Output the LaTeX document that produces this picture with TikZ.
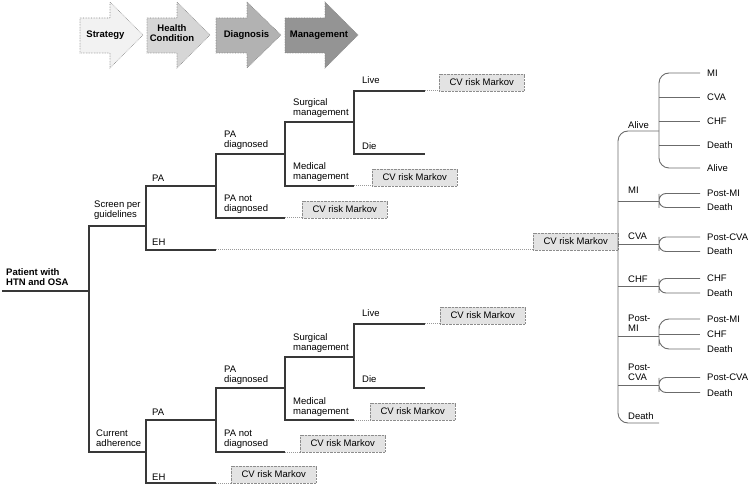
\documentclass[tikz,border=0pt]{standalone}
\usepackage{fontspec}
\setmainfont{Liberation Sans}
\begin{document}
\begin{tikzpicture}[x=1pt,y=-1pt,
  treeline/.style={draw=black!78,line width=1.1pt},
  mkline/.style={draw=black!58,line width=0.9pt},
  dotline/.style={draw=black!40,line width=1pt,densely dotted},
  lbl/.style={anchor=base west,inner sep=0pt,align=left,font=\fontsize{9.5}{10}\selectfont},
  sublbl/.style={anchor=west,inner sep=0pt,text height=7pt,text depth=0pt,font=\fontsize{9.5}{10}\selectfont},
  mbox/.style={draw=black!45,densely dotted,fill=black!11,minimum width=85pt,minimum height=17pt,inner sep=0pt,anchor=south west,font=\fontsize{9.5}{10}\selectfont},
  arrowshape/.style={draw=black!50,densely dotted,line width=0.6pt},
  arrowtext/.style={inner sep=0pt,align=center,font=\fontsize{9.5}{10}\selectfont\bfseries}
]
\useasboundingbox (0,0) rectangle (750,486);

% ---------- header arrows ----------
\filldraw[arrowshape,fill=black!5] (80,18) -- (110,18) -- (110,2) -- (143,35) -- (110,68) -- (110,53) -- (80,53) -- cycle;
\filldraw[arrowshape,fill=black!16] (147,18) -- (177,18) -- (177,2) -- (210,35) -- (177,68) -- (177,53) -- (147,53) -- cycle;
\filldraw[arrowshape,fill=black!30] (216,18) -- (247,18) -- (247,2) -- (281,35) -- (247,68) -- (247,53) -- (216,53) -- cycle;
\filldraw[arrowshape,fill=black!42] (285,18) -- (325,18) -- (325,2) -- (358,35) -- (325,68) -- (325,53) -- (285,53) -- cycle;
\node[arrowtext] (hStrategy) at (105.5,35) {Strategy};
\node[arrowtext] (hHealth) at (172,33) {Health\\Condition};
\node[arrowtext] (hDiag) at (246.5,35) {Diagnosis};
\node[arrowtext] (hMan) at (319,35) {Management};

% ---------- coordinates of upper tree ----------
\coordinate (r0) at (2,291);
\coordinate (r1) at (89,291);
\coordinate (sg) at (146,226);
\coordinate (pa1) at (216,186);
\coordinate (eh1) at (216,250);
\coordinate (pd1) at (285,154);
\coordinate (pn1) at (285,218);
\coordinate (sm1) at (354,122);
\coordinate (mm1) at (354,186);
\coordinate (lv1) at (425,91);
\coordinate (die1) at (425,154);
% lower tree
\coordinate (ca) at (146,452);
\coordinate (pa2) at (216,420);
\coordinate (eh2) at (216,483);
\coordinate (pd2) at (285,388);
\coordinate (pn2) at (285,452);
\coordinate (sm2) at (354,357);
\coordinate (mm2) at (354,420);
\coordinate (lv2) at (425,324);
\coordinate (die2) at (425,388);

% ---------- Markov boxes ----------
\node[mbox] (bl1) at (439,91) {CV risk Markov};
\node[mbox] (bm1) at (372,186) {CV risk Markov};
\node[mbox] (bn1) at (302,218) {CV risk Markov};
\node[mbox] (beh1) at (533,250) {CV risk Markov};
\node[mbox] (bl2) at (440,324) {CV risk Markov};
\node[mbox] (bm2) at (370,420) {CV risk Markov};
\node[mbox] (bn2) at (300,452) {CV risk Markov};
\node[mbox] (beh2) at (231,483) {CV risk Markov};

% ---------- tree connectors ----------
\draw[treeline] (r0) -- (r1);
\draw[treeline] (r1) |- (sg);
\draw[treeline] (r1) |- (ca);
\draw[treeline] (sg) |- (pa1);
\draw[treeline] (sg) |- (eh1);
\draw[treeline] (pa1) |- (pd1);
\draw[treeline] (pa1) |- (pn1);
\draw[treeline] (pd1) |- (sm1);
\draw[treeline] (pd1) |- (mm1);
\draw[treeline] (sm1) |- (lv1);
\draw[treeline] (sm1) |- (die1);
\draw[treeline] (ca) |- (pa2);
\draw[treeline] (ca) |- (eh2);
\draw[treeline] (pa2) |- (pd2);
\draw[treeline] (pa2) |- (pn2);
\draw[treeline] (pd2) |- (sm2);
\draw[treeline] (pd2) |- (mm2);
\draw[treeline] (sm2) |- (lv2);
\draw[treeline] (sm2) |- (die2);

\draw[dotline] (lv1) -- (bl1.south west);
\draw[dotline] (mm1) -- (bm1.south west);
\draw[dotline] (pn1) -- (bn1.south west);
\draw[dotline] (eh1) -- (beh1.south west);
\draw[dotline] (lv2) -- (bl2.south west);
\draw[dotline] (mm2) -- (bm2.south west);
\draw[dotline] (pn2) -- (bn2.south west);
\draw[dotline] (eh2) -- (beh2.south west);

% ---------- tree labels ----------
\node[lbl,font=\fontsize{9.5}{10}\selectfont\bfseries] (lPatient) at (6,285.5) {Patient with\\HTN and OSA};
\node[lbl] (lScreen) at (94,218) {Screen per\\guidelines};
\node[lbl] (lPA1) at (152,182) {PA};
\node[lbl] (lEH1) at (152,246) {EH};
\node[lbl] (lPD1) at (224,148) {PA\\diagnosed};
\node[lbl] (lPN1) at (224,212) {PA not\\diagnosed};
\node[lbl] (lSM1) at (293,115.5) {Surgical\\management};
\node[lbl] (lMM1) at (293,180) {Medical\\management};
\node[lbl] (lLV1) at (362,84) {Live};
\node[lbl] (lDie1) at (362,149.5) {Die};

\node[lbl] (lCA) at (96,446.5) {Current\\adherence};
\node[lbl] (lPA2) at (152,415.5) {PA};
\node[lbl] (lEH2) at (152,480) {EH};
\node[lbl] (lPD2) at (224,383) {PA\\diagnosed};
\node[lbl] (lPN2) at (224,446.5) {PA not\\diagnosed};
\node[lbl] (lSM2) at (293,350.5) {Surgical\\management};
\node[lbl] (lMM2) at (293,414) {Medical\\management};
\node[lbl] (lLV2) at (362,317) {Live};
\node[lbl] (lDie2) at (362,383) {Die};

% ---------- Markov state tree ----------
\coordinate (mk) at (618,250);
\coordinate (mA) at (659,131);
\coordinate (mMI) at (659,201);
\coordinate (mCVA) at (659,244);
\coordinate (mCHF) at (659,286);
\coordinate (mPMI) at (659,336);
\coordinate (mPCVA) at (659,385);
\coordinate (mD) at (659,423);

\draw[mkline,rounded corners=10pt] (mA) -| (mk) |- (mD);
\draw[mkline] (mMI -| mk) -- (mMI);
\draw[mkline] (mCVA -| mk) -- (mCVA);
\draw[mkline] (mCHF -| mk) -- (mCHF);
\draw[mkline] (mPMI -| mk) -- (mPMI);
\draw[mkline] (mPCVA -| mk) -- (mPCVA);

\node[lbl] (sAlive) at (628,128.5) {Alive};
\node[lbl] (sMI) at (628,194) {MI};
\node[lbl] (sCVA) at (628,240) {CVA};
\node[lbl] (sCHF) at (628,282.5) {CHF};
\node[lbl] (sPMI) at (628,331.5) {Post-\\MI};
\node[lbl] (sPCVA) at (628,380.5) {Post-\\CVA};
\node[lbl] (sDeath) at (628,419.5) {Death};

% sub-branch end points
\coordinate (aMI) at (700,73);
\coordinate (aCVA) at (700,97.5);
\coordinate (aCHF) at (700,121);
\coordinate (aDeath) at (700,145);
\coordinate (aAlive) at (700,168);
\draw[mkline,rounded corners=10pt] (aMI) -| (mA) |- (aAlive);
\draw[mkline] (aCVA -| mA) -- (aCVA);
\draw[mkline] (aCHF -| mA) -- (aCHF);
\draw[mkline] (aDeath -| mA) -- (aDeath);

\coordinate (bPost) at (700,193.5);
\coordinate (bDeath) at (700,207.5);
\draw[mkline,rounded corners=7pt] (bPost) -| (mMI) |- (bDeath);
\coordinate (cPost) at (700,237);
\coordinate (cDeath) at (700,251.5);
\draw[mkline,rounded corners=7pt] (cPost) -| (mCVA) |- (cDeath);
\coordinate (dCHF) at (700,278.5);
\coordinate (dDeath) at (700,293);
\draw[mkline,rounded corners=7pt] (dCHF) -| (mCHF) |- (dDeath);
\coordinate (ePost) at (700,319);
\coordinate (eCHF) at (700,334);
\coordinate (eDeath) at (700,349);
\draw[mkline,rounded corners=10pt] (ePost) -| (mPMI) |- (eDeath);
\draw[mkline] (eCHF -| mPMI) -- (eCHF);
\coordinate (fPost) at (700,377.5);
\coordinate (fDeath) at (700,392.5);
\draw[mkline,rounded corners=7pt] (fPost) -| (mPCVA) |- (fDeath);

\node[sublbl] (tA1) at ([xshift=7pt]aMI) {MI};
\node[sublbl] (tA2) at ([xshift=7pt]aCVA) {CVA};
\node[sublbl] (tA3) at ([xshift=7pt]aCHF) {CHF};
\node[sublbl] (tA4) at ([xshift=7pt]aDeath) {Death};
\node[sublbl] (tA5) at ([xshift=7pt]aAlive) {Alive};
\node[sublbl] (tB1) at ([xshift=7pt]bPost) {Post-MI};
\node[sublbl] (tB2) at ([xshift=7pt]bDeath) {Death};
\node[sublbl] (tC1) at ([xshift=7pt]cPost) {Post-CVA};
\node[sublbl] (tC2) at ([xshift=7pt]cDeath) {Death};
\node[sublbl] (tD1) at ([xshift=7pt]dCHF) {CHF};
\node[sublbl] (tD2) at ([xshift=7pt]dDeath) {Death};
\node[sublbl] (tE1) at ([xshift=7pt]ePost) {Post-MI};
\node[sublbl] (tE2) at ([xshift=7pt]eCHF) {CHF};
\node[sublbl] (tE3) at ([xshift=7pt]eDeath) {Death};
\node[sublbl] (tF1) at ([xshift=7pt]fPost) {Post-CVA};
\node[sublbl] (tF2) at ([xshift=7pt]fDeath) {Death};
\end{tikzpicture}
\end{document}
